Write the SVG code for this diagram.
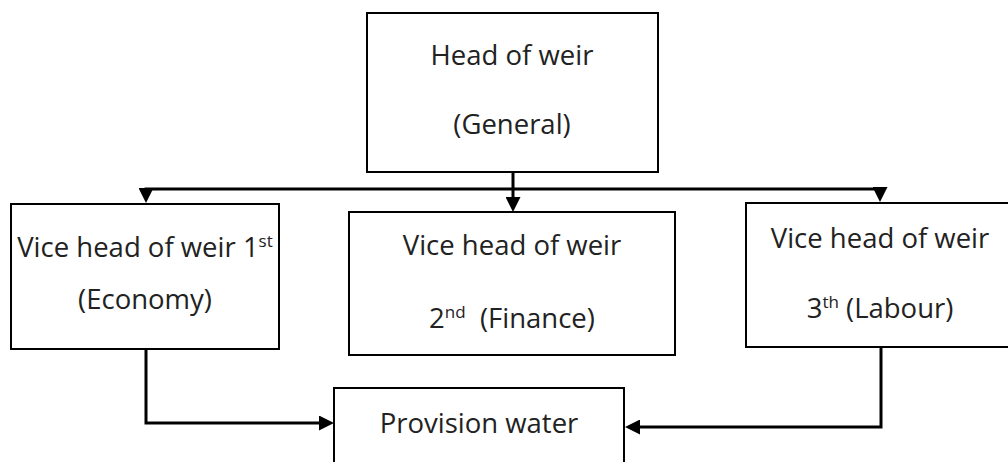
<svg xmlns="http://www.w3.org/2000/svg" width="1008" height="462" viewBox="0 0 1008 462">
  <style>
    .box { fill: #ffffff; stroke: #000000; stroke-width: 2; }
    .lbl { font-family: "Open Sans", "Liberation Sans", sans-serif; font-size: 27.5px; fill: #222222; text-anchor: middle; }
    .sup { font-size: 17px; }
    .conn { fill: none; stroke: #000000; stroke-width: 3; }
  </style>
  <defs>
    <marker id="arrow" viewBox="0 0 10 10" refX="7" refY="5" markerUnits="userSpaceOnUse" markerWidth="15" markerHeight="15" orient="auto">
      <path d="M0,0 L10,5 L0,10 z" fill="#000000"/>
    </marker>
  </defs>
  <rect width="1008" height="462" fill="#ffffff"/>

  <g id="connectors">
    <path class="conn" d="M513,189 H146 V198.5" marker-end="url(#arrow)"/>
    <path class="conn" d="M513,189 H880 V197.5" marker-end="url(#arrow)"/>
    <path class="conn" d="M513,172 V207.5" marker-end="url(#arrow)"/>
    <path class="conn" d="M146,349 V423 H329.5" marker-end="url(#arrow)"/>
    <path class="conn" d="M881,347 V427 H629.5" marker-end="url(#arrow)"/>
  </g>

  <g id="head">
    <rect class="box" x="367" y="13" width="291" height="159"/>
    <text class="lbl" x="512" y="65">Head of weir</text>
    <text class="lbl" x="512" y="134">(General)</text>
  </g>

  <g id="vice1">
    <rect class="box" x="11" y="204" width="268" height="145"/>
    <text class="lbl" x="145" y="257">Vice head of weir 1<tspan class="sup" dy="-10">st</tspan></text>
    <text class="lbl" x="145" y="309">(Economy)</text>
  </g>

  <g id="vice2">
    <rect class="box" x="349" y="212" width="326" height="143"/>
    <text class="lbl" x="512" y="255">Vice head of weir</text>
    <text class="lbl" x="512" y="328">2<tspan class="sup" dy="-10">nd</tspan><tspan dy="10" xml:space="preserve">  (Finance)</tspan></text>
  </g>

  <g id="vice3">
    <rect class="box" x="746" y="203" width="270" height="144"/>
    <text class="lbl" x="880" y="248">Vice head of weir</text>
    <text class="lbl" x="880" y="318">3<tspan class="sup" dy="-10">th</tspan><tspan dy="10"> (Labour)</tspan></text>
  </g>

  <g id="provision">
    <rect class="box" x="334" y="388" width="290" height="90"/>
    <text class="lbl" x="479" y="433">Provision water</text>
  </g>
</svg>
